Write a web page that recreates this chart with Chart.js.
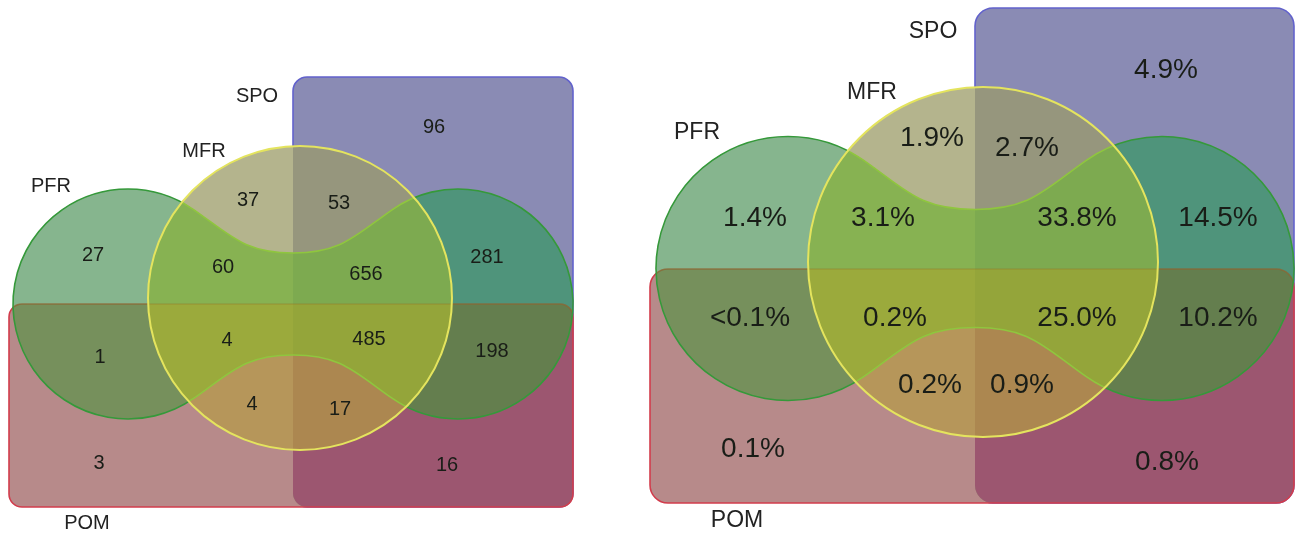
<!doctype html>
<html lang="en">

<head>
  <meta charset="utf-8">
  <title>PFR / MFR / SPO / POM Venn</title>
  <style>
    * {
      margin: 0;
      padding: 0;
    }

    body {
      background: #fff;
    }

    .chartBox {
      width: 1297px;
      height: 533px;
    }
  </style>
</head>

<body>
  <div class="chartBox">
    <canvas id="myChart"></canvas>
  </div>
  <script src="https://cdn.jsdelivr.net/npm/chart.js"></script>
  <script>

    // data
    const setNames = ['PFR', 'MFR', 'SPO', 'POM'];
    // region keys: F = PFR, M = MFR, S = SPO, O = POM
    const regionKeys = ['S', 'F', 'M', 'MS', 'MF', 'MFS', 'FS', 'FO', 'MFO', 'MFSO', 'FSO', 'MO', 'MSO', 'O', 'SO'];
    const leftCounts = [96, 27, 37, 53, 60, 656, 281, 1, 4, 485, 198, 4, 17, 3, 16];
    const rightShares = ['4.9%', '1.4%', '1.9%', '2.7%', '3.1%', '33.8%', '14.5%', '<0.1%', '0.2%', '25.0%', '10.2%', '0.2%', '0.9%', '0.1%', '0.8%'];

    // layout, in scale units (one unit = one pixel of the page)
    const leftSpots = [[434, 127], [93, 255], [248, 200], [339, 203], [223, 267], [366, 274], [487, 257],
      [100, 357], [227, 340], [369, 339], [492, 351], [252, 404], [340, 409], [99, 463], [447, 465]];
    const rightSpots = [[1166, 70], [755, 218], [932, 138], [1027, 148], [883, 218], [1077, 218], [1218, 218],
      [750, 318], [895, 318], [1077, 318], [1218, 318], [930, 385], [1022, 385], [753, 449], [1167, 462]];
    const leftNameSpots = [[51, 186], [204, 151], [257, 96], [87, 523]];
    const rightNameSpots = [[697, 133], [872, 93], [933, 32], [737, 521]];

    const panels = [
      {
        spo: { x0: 293, y0: 77, x1: 573, y1: 507, r: 14 },
        pom: { x0: 9, y0: 304, x1: 573, y1: 507, r: 13 },
        mfr: { cx: 300, cy: 298, r: 152 },
        pfr: { cxL: 128, cxR: 458, cy: 304, r: 115, neck: 51, mid: 293 }
      },
      {
        spo: { x0: 975, y0: 8, x1: 1294, y1: 503, r: 18 },
        pom: { x0: 650, y0: 269, x1: 1294, y1: 503, r: 18 },
        mfr: { cx: 983, cy: 262, r: 175 },
        pfr: { cxL: 788, cxR: 1162, cy: 268.5, r: 132, neck: 59, mid: 975 }
      }
    ];

    const regionColors = {
      S: '#8a8bb4', O: '#b78a8a', SO: '#9c5670',
      F: '#86b58e', FS: '#4f947b', FO: '#76905c', FSO: '#647e4e',
      M: '#b4b48d', MS: '#96967d', MF: '#87b252', MFS: '#7daa50',
      MFO: '#9baa3c', MFSO: '#94a53a', MO: '#b6965a', MSO: '#ac8750'
    };

    // shape builders (scale units -> pixels)
    function len(scale, d) {
      return Math.abs(scale.getPixelForValue(d) - scale.getPixelForValue(0));
    }

    function roundRectPath(x, y, b) {
      const x0 = x.getPixelForValue(b.x0), x1 = x.getPixelForValue(b.x1);
      const y0 = y.getPixelForValue(b.y0), y1 = y.getPixelForValue(b.y1);
      const r = len(x, b.r);
      const p = new Path2D();
      p.moveTo(x0 + r, y0);
      p.arcTo(x1, y0, x1, y1, r);
      p.arcTo(x1, y1, x0, y1, r);
      p.arcTo(x0, y1, x0, y0, r);
      p.arcTo(x0, y0, x1, y0, r);
      p.closePath();
      return p;
    }

    function circlePath(x, y, c) {
      const p = new Path2D();
      p.arc(x.getPixelForValue(c.cx), y.getPixelForValue(c.cy), len(x, c.r), 0, Math.PI * 2);
      p.closePath();
      return p;
    }

    // two lobes joined by a pinched neck
    function pfrPath(x, y, g) {
      const cxL = x.getPixelForValue(g.cxL), cxR = x.getPixelForValue(g.cxR);
      const cy = y.getPixelForValue(g.cy), mid = x.getPixelForValue(g.mid);
      const r = len(x, g.r), h = len(y, g.neck);
      const a = 55 * Math.PI / 180;
      const sa = Math.sin(a), ca = Math.cos(a);
      const k = 0.4 * r, m = 0.42 * r;
      const p = new Path2D();
      // top left junction
      p.moveTo(cxL + r * ca, cy - r * sa);
      p.bezierCurveTo(cxL + r * ca + k * sa, cy - r * sa + k * ca, mid - m, cy - h, mid, cy - h);
      p.bezierCurveTo(mid + m, cy - h, cxR - r * ca - k * sa, cy - r * sa + k * ca, cxR - r * ca, cy - r * sa);
      p.arc(cxR, cy, r, a - Math.PI, Math.PI - a, false);
      p.bezierCurveTo(cxR - r * ca - k * sa, cy + r * sa - k * ca, mid + m, cy + h, mid, cy + h);
      p.bezierCurveTo(mid - m, cy + h, cxL + r * ca + k * sa, cy + r * sa - k * ca, cxL + r * ca, cy + r * sa);
      p.arc(cxL, cy, r, a, Math.PI * 2 - a, false);
      p.closePath();
      return p;
    }

    function clipOut(ctx, chart, path) {
      const p = new Path2D();
      p.rect(-10, -10, chart.width + 20, chart.height + 20);
      p.addPath(path);
      ctx.clip(p, 'evenodd');
    }

    function drawPanel(chart, p) {
      const { ctx, scales: { x, y } } = chart;
      const shapes = {
        F: pfrPath(x, y, p.pfr),
        M: circlePath(x, y, p.mfr),
        S: roundRectPath(x, y, p.spo),
        O: roundRectPath(x, y, p.pom)
      };
      const W = chart.width, H = chart.height;

      // soft under-layer so region seams do not show white
      ctx.save();
      ctx.fillStyle = '#8e9070';
      ['F', 'M', 'S', 'O'].forEach(k => ctx.fill(shapes[k]));
      ctx.restore();

      // each region gets its own flat colour
      Object.keys(regionColors).forEach(key => {
        ctx.save();
        'FMSO'.split('').forEach(l => {
          if (key.includes(l)) ctx.clip(shapes[l]);
          else clipOut(ctx, chart, shapes[l]);
        });
        ctx.fillStyle = regionColors[key];
        ctx.fillRect(0, 0, W, H);
        ctx.restore();
      });

      ctx.lineJoin = 'round';

      // SPO outline, only where nothing covers it
      ctx.save();
      clipOut(ctx, chart, shapes.O);
      clipOut(ctx, chart, shapes.M);
      ctx.strokeStyle = '#6262cc';
      ctx.lineWidth = 1.6;
      ctx.stroke(shapes.S);
      ctx.restore();

      // POM outline
      ctx.save();
      clipOut(ctx, chart, shapes.F);
      clipOut(ctx, chart, shapes.M);
      ctx.strokeStyle = '#d23c4c';
      ctx.lineWidth = 1.6;
      ctx.stroke(shapes.O);
      ctx.restore();

      ctx.save();
      ctx.clip(shapes.F);
      clipOut(ctx, chart, shapes.M);
      ctx.strokeStyle = 'rgba(140, 100, 50, 0.75)';
      ctx.lineWidth = 1.6;
      ctx.stroke(shapes.O);
      ctx.restore();

      ctx.save();
      ctx.clip(shapes.M);
      ctx.strokeStyle = 'rgba(150, 120, 40, 0.35)';
      ctx.lineWidth = 1.4;
      ctx.stroke(shapes.O);
      ctx.restore();

      // PFR outline
      ctx.save();
      clipOut(ctx, chart, shapes.M);
      ctx.strokeStyle = '#35993a';
      ctx.lineWidth = 1.6;
      ctx.stroke(shapes.F);
      ctx.restore();

      ctx.save();
      ctx.clip(shapes.M);
      ctx.strokeStyle = '#8fc63e';
      ctx.lineWidth = 1.6;
      ctx.stroke(shapes.F);
      ctx.restore();

      // MFR outline on top
      ctx.save();
      ctx.strokeStyle = '#e4e45e';
      ctx.lineWidth = 2;
      ctx.stroke(shapes.M);
      ctx.restore();
    }

    const vennPlugin = {
      id: 'venn',
      beforeDatasetsDraw(chart) {
        panels.forEach(p => drawPanel(chart, p));
      },
      afterDatasetsDraw(chart) {
        const { ctx } = chart;
        chart.data.datasets.forEach((ds, i) => {
          const meta = chart.getDatasetMeta(i);
          ctx.save();
          ctx.font = ds.textFont;
          ctx.fillStyle = ds.textColor;
          ctx.textAlign = 'center';
          ctx.textBaseline = 'middle';
          meta.data.forEach((pt, j) => {
            ctx.fillText(ds.texts[j], pt.x, pt.y);
          });
          ctx.restore();
        });
      }
    };

    const toPoints = spots => spots.map(([x, y]) => ({ x, y }));
    const fontFamily = '"Liberation Sans", Arial, Helvetica, sans-serif';

    // config
    const config = {
      type: 'scatter',
      data: {
        datasets: [{
          label: 'counts',
          data: toPoints(leftSpots),
          texts: leftCounts.map(String),
          textFont: '20px ' + fontFamily,
          textColor: '#191d17',
          pointRadius: 0
        }, {
          label: 'shares',
          data: toPoints(rightSpots),
          texts: rightShares,
          textFont: '28px ' + fontFamily,
          textColor: '#191d17',
          pointRadius: 0
        }, {
          label: 'sets left',
          data: toPoints(leftNameSpots),
          texts: setNames,
          textFont: '20px ' + fontFamily,
          textColor: '#222',
          pointRadius: 0
        }, {
          label: 'sets right',
          data: toPoints(rightNameSpots),
          texts: setNames,
          textFont: '23px ' + fontFamily,
          textColor: '#222',
          pointRadius: 0
        }]
      },
      options: {
        responsive: true,
        maintainAspectRatio: false,
        animation: false,
        events: [],
        layout: { padding: 0 },
        plugins: {
          legend: { display: false },
          tooltip: { enabled: false }
        },
        scales: {
          x: { type: 'linear', min: 0, max: 1297, display: false },
          y: { type: 'linear', min: 0, max: 533, reverse: true, display: false }
        }
      },
      plugins: [vennPlugin]
    };

    const myChart = new Chart(document.getElementById('myChart'), config);
  </script>
</body>

</html>
